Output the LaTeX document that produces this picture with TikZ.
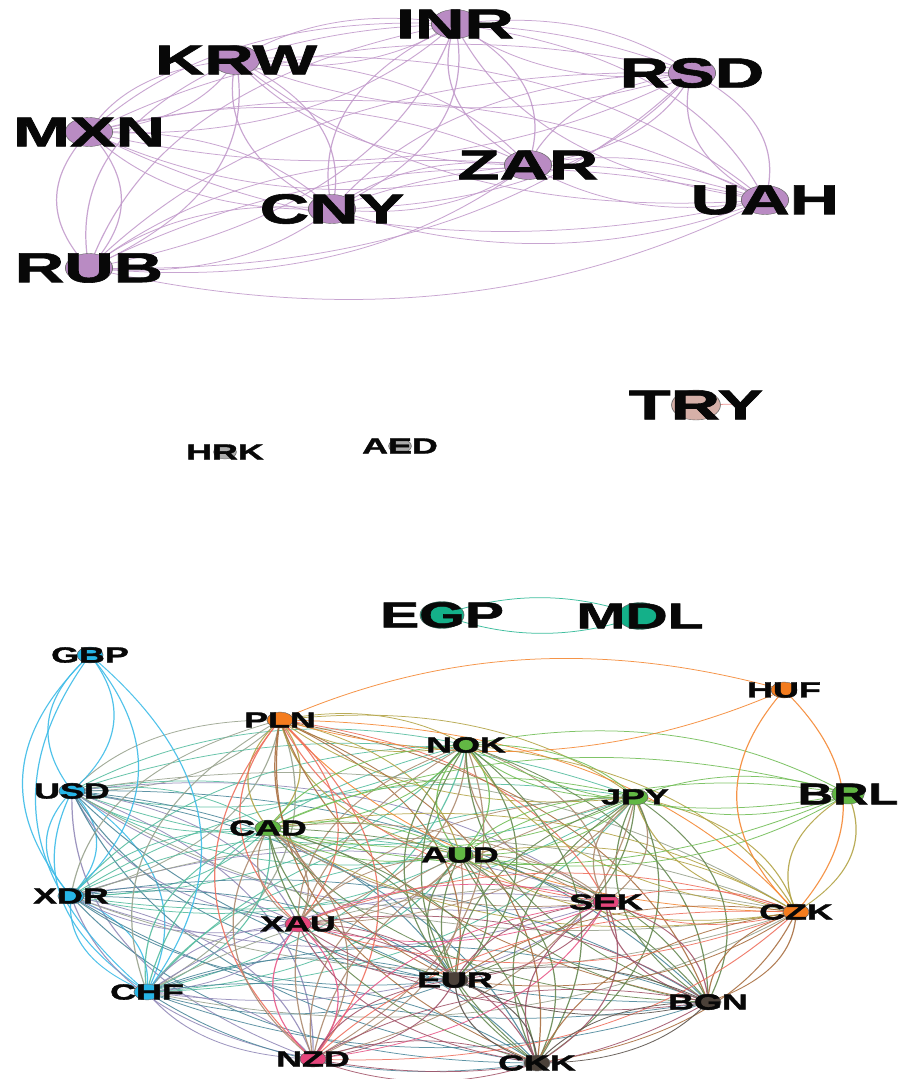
\documentclass[tikz,border=0pt]{standalone}
\usepackage{fontspec}
\newfontfamily\labfont{Liberation Sans}[BoldFeatures={FakeBold=1.3}]

% community colours
\definecolor{cpurple}{HTML}{B98BC3}
\definecolor{cblue}{HTML}{27B5E6}
\definecolor{corange}{HTML}{F47C1E}
\definecolor{cgreen}{HTML}{62B744}
\definecolor{cpink}{HTML}{E6467C}
\definecolor{cdark}{HTML}{4B4139}
\definecolor{cteal}{HTML}{14B089}
\definecolor{cgray}{HTML}{ABABAB}
\definecolor{ctry}{HTML}{D6B0A8}

% one colour per currency
\colorlet{nINR}{cpurple}\colorlet{nKRW}{cpurple}\colorlet{nRSD}{cpurple}
\colorlet{nMXN}{cpurple}\colorlet{nZAR}{cpurple}\colorlet{nCNY}{cpurple}
\colorlet{nUAH}{cpurple}\colorlet{nRUB}{cpurple}
\colorlet{nTRY}{ctry}\colorlet{nHRK}{cgray}\colorlet{nAED}{cgray}
\colorlet{nEGP}{cteal}\colorlet{nMDL}{cteal}
\colorlet{nGBP}{cblue}\colorlet{nUSD}{cblue}\colorlet{nXDR}{cblue}\colorlet{nCHF}{cblue}
\colorlet{nHUF}{corange}\colorlet{nPLN}{corange}\colorlet{nCZK}{corange}
\colorlet{nNOK}{cgreen}\colorlet{nJPY}{cgreen}\colorlet{nBRL}{cgreen}
\colorlet{nCAD}{cgreen}\colorlet{nAUD}{cgreen}
\colorlet{nSEK}{cpink}\colorlet{nXAU}{cpink}\colorlet{nNZD}{cpink}
\colorlet{nEUR}{cdark}\colorlet{nBGN}{cdark}\colorlet{nCKK}{cdark}

% name / x / y / dot diameter / label size
\def\nodelist{INR/455/24/29/42, KRW/236/60/29/42, RSD/692/73/29/42,
  MXN/89/132/29/42, ZAR/528/165/29/42, CNY/332/209/29/42, UAH/765/200/29/42,
  RUB/89/268/29/42, TRY/696/405/30/42, HRK/225/452/14/22, AED/400/446/14/22,
  EGP/442/615/27/36, MDL/640/616/27/36, GBP/90/655/16/22, HUF/784/690/16/22,
  PLN/280/720/16/22, NOK/466/745/16/22, USD/72/791/16/22, JPY/635/797/16/22,
  BRL/848/794/20/30, CAD/268/828/16/22, AUD/460/855/16/22, XDR/71/896/16/22,
  SEK/606/902/16/22, CZK/796/912/16/22, XAU/298/924/16/22, EUR/455/980/16/22,
  CHF/147/992/16/22, BGN/708/1002/16/22, NZD/313/1059/16/22, CKK/537/1063/16/22}

\def\topset{INR,KRW,RSD,MXN,ZAR,CNY,UAH,RUB}
\def\bigset{USD,XDR,CHF,PLN,NOK,CAD,AUD,JPY,SEK,CZK,XAU,EUR,BGN,NZD,CKK}

\begin{document}
\begin{tikzpicture}[x=1pt,y=-1pt,
  edge/.style={line width=0.75pt, opacity=0.9},
  dot/.style={circle, draw=black!60, line width=0.4pt, inner sep=0pt, minimum size=#1},
  lab/.style={font=\labfont\bfseries\fontsize{#1}{#1}\selectfont, text=black!97, inner sep=0pt},
]
\useasboundingbox[fill=white] (0,0) rectangle (900,1079);

\begin{scope}[transform canvas={xscale=1.63}, x=0.6135pt]
  % positions
  \foreach \n/\x/\y/\d/\f in \nodelist {
    \node[coordinate] (\n) at (\x,\y) {};
  }
  \coordinate (TRYend) at (738,404);

  % both directions of every link, bent apart
  \foreach \a [count=\i] in \topset {
    \foreach \b [count=\j] in \topset {
      \ifnum\j>\i
        \draw[edge, draw=n\a!50!n\b!85!white] (\a) to[bend left=30] (\b) (\a) to[bend right=30] (\b);
      \fi
    }
  }
  \foreach \a [count=\i] in \bigset {
    \foreach \b [count=\j] in \bigset {
      \ifnum\j>\i
        \draw[edge, draw=n\a!50!n\b!90!white] (\a) to[bend left=30] (\b) (\a) to[bend right=30] (\b);
      \fi
    }
  }
  \foreach \a/\b in {BRL/NOK, BRL/JPY, BRL/AUD, BRL/CAD, BRL/CZK,
                     GBP/USD, GBP/XDR, GBP/CHF, HUF/PLN, HUF/CZK, EGP/MDL} {
    \draw[edge, draw=n\a!50!n\b!90!white] (\a) to[bend left=30] (\b) (\a) to[bend right=30] (\b);
  }
  \draw[edge, draw=ctry!60!red!80!white] (TRY) -- (TRYend);

  % dots and labels
  \foreach \n/\x/\y/\d/\f in \nodelist {
    \node[dot=\d pt, fill=n\n] (\n-dot) at (\n) {};
    \node[lab=\f] (\n-txt) at (\n) {\n};
  }
\end{scope}
\end{tikzpicture}
\end{document}
